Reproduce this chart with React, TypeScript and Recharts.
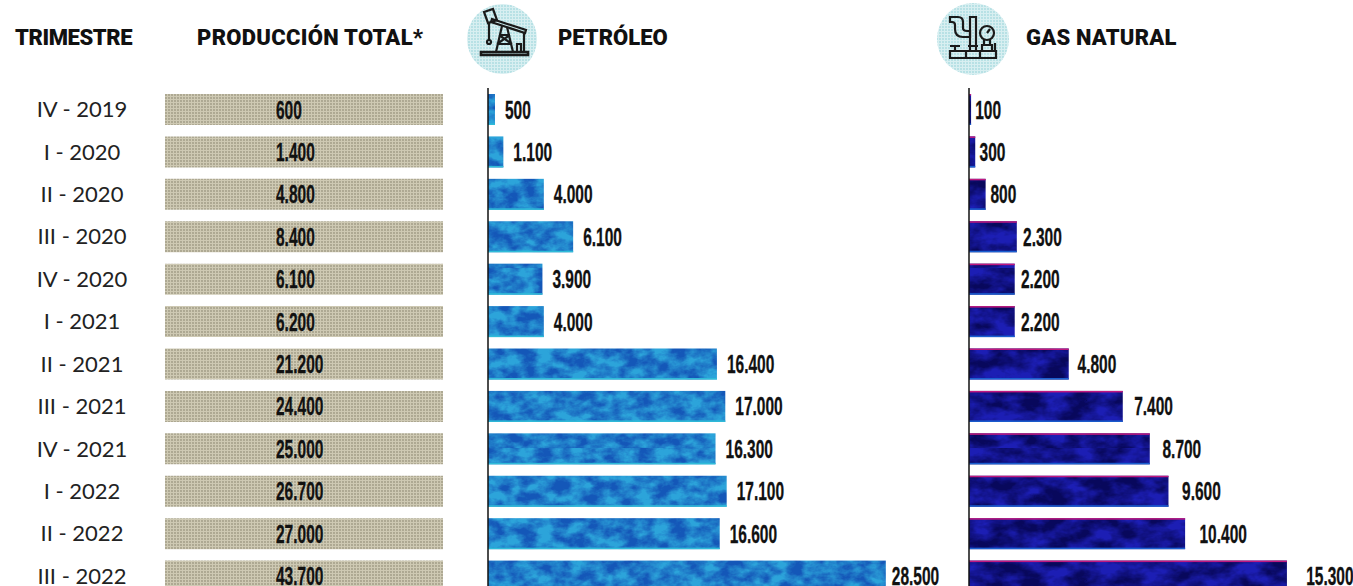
import { BarChart, Bar, XAxis, YAxis, LabelList } from 'recharts';

const quarters = [
  'IV - 2019', 'I - 2020', 'II - 2020', 'III - 2020', 'IV - 2020', 'I - 2021',
  'II - 2021', 'III - 2021', 'IV - 2021', 'I - 2022', 'II - 2022', 'III - 2022',
];
const totalValues = [600, 1400, 4800, 8400, 6100, 6200, 21200, 24400, 25000, 26700, 27000, 43700];
const oilValues = [500, 1100, 4000, 6100, 3900, 4000, 16400, 17000, 16300, 17100, 16600, 28500];
const gasValues = [100, 300, 800, 2300, 2200, 2200, 4800, 7400, 8700, 9600, 10400, 15300];

const rows = quarters.map((quarter, i) => ({
  quarter,
  total: totalValues[i],
  oil: oilValues[i],
  gas: gasValues[i],
}));

const CHART_TOP = 88;
const CHART_HEIGHT = 509;
const BAR_SIZE = 31;
const HEAD_FONT = 'Roboto, "Liberation Sans", sans-serif';

// 1400 -> 1.400, the way the paper prints it
const formatValue = (value: number) => String(value).replace(/\B(?=(\d{3})+$)/g, '.');

// no condensed face is installed, so squeeze the bold one sideways
function NarrowText({ x, y, children }: any) {
  return (
    <text
      transform={`translate(${x} ${y}) scale(0.62 1)`}
      fontFamily='"Liberation Sans", sans-serif'
      fontWeight={700}
      fontSize={25}
      fill="#111"
      stroke="#111"
      strokeWidth={0.3}
    >
      {children}
    </text>
  );
}

function QuarterTick({ y, payload }: any) {
  return (
    <text x={82} y={y} dy={8} textAnchor="middle" fontFamily="Lato, sans-serif" fontSize={22} fill="#222">
      {payload.value}
    </text>
  );
}

function OilBar({ x, y, width, height }: any) {
  return (
    <g>
      <rect x={x} y={y} width={width} height={height} fill="url(#oilTexture)" />
      <rect x={x} y={y + height - 1.5} width={width} height={1.5} fill="#2fbcd8" />
    </g>
  );
}

function GasBar({ x, y, width, height }: any) {
  return (
    <g>
      <rect x={x} y={y} width={width} height={height} fill="url(#gasTexture)" />
      <rect x={x} y={y} width={width} height={1.5} fill="#c0187f" />
      <rect x={x} y={y + height - 1.5} width={width} height={1.5} fill="#1a5fd0" />
    </g>
  );
}

function OilLabel({ x, y, width, height, value }: any) {
  return (
    <NarrowText x={x + width + (value > 20000 ? 6 : 10)} y={y + height / 2 + 9}>
      {formatValue(value)}
    </NarrowText>
  );
}

function GasLabel({ x, y, width, height, value }: any) {
  // the gap in the print widens with the bar
  return (
    <NarrowText x={x + width + 4 + value * 0.001} y={y + height / 2 + 9}>
      {formatValue(value)}
    </NarrowText>
  );
}

function TotalLabel({ x, y, height, value }: any) {
  return (
    <NarrowText x={x + 111} y={y + height / 2 + 9}>
      {formatValue(value)}
    </NarrowText>
  );
}

function Heading({ left, spacing, children }: { left: number; spacing: number; children: string }) {
  return (
    <div
      style={{
        position: 'absolute',
        left,
        top: 24,
        fontFamily: HEAD_FONT,
        fontWeight: 900,
        fontSize: 22,
        letterSpacing: spacing,
        lineHeight: '28px',
        color: '#111',
        whiteSpace: 'nowrap',
      }}
    >
      {children}
    </div>
  );
}

function OilIcon() {
  return (
    <svg width={74} height={74} viewBox="0 0 74 74" style={{ position: 'absolute', left: 465, top: 2 }}>
      <circle cx={37} cy={37} r={35} fill="url(#iconTexture)" />
      <g fill="none" stroke="#1a1a1a" strokeWidth={2.2}>
        <path d="M19 10l9 -3l4 11l-9 3z" />
        <path d="M27 17l34 11l-1 3l-34 -11z" />
        <path d="M24 20v18" />
        <circle cx={24} cy={40} r={2} />
        <path d="M37 24l-6 26M42 25l6 25M34 33h11M32 42h15M34 33l13 9M45 33l-13 9" />
        <path d="M59 30v20" />
        <path d="M16 50h47v3h-47z" strokeWidth={2.6} />
        <path d="M52 50v-8h4v8" />
      </g>
    </svg>
  );
}

function GasIcon() {
  return (
    <svg width={74} height={74} viewBox="0 0 74 74" style={{ position: 'absolute', left: 936, top: 2 }}>
      <circle cx={37} cy={37} r={36} fill="url(#iconTexture)" />
      <g fill="none" stroke="#1a1a1a" strokeWidth={2.2}>
        <path d="M14 15h8c3 0 5 2 5 5v6c0 2 2 3 4 3h3v6h-7c-5 0 -8 -3 -8 -8v-4c0 -2 -1 -3 -3 -3h-2z" />
        <path d="M34 15h6v34h-6zM32 44h10" />
        <circle cx={51} cy={31} r={7} />
        <path d="M51 31l3 -4M48 38v5h6v-5M46 43h10v6h-10z" />
        <path d="M14 44h10M19 44v5" />
        <path d="M14 49h46v7h-46zM30 49v7M44 49v7" />
        <path d="M59 41v8" />
      </g>
    </svg>
  );
}

export default function App() {
  return (
    <div style={{ position: 'fixed', inset: 0, width: 1353, height: 586, overflow: 'hidden', background: '#fff' }}>
      <svg width={0} height={0} style={{ position: 'absolute' }}>
        <defs>
          {/* print mottling for the colour bars, the matrix sets the blotch colour */}
          <filter id="oilMottle" x="0" y="0" width="100%" height="100%" colorInterpolationFilters="sRGB">
            <feTurbulence type="fractalNoise" baseFrequency="0.06 0.09" numOctaves={4} seed={4} />
            <feColorMatrix type="matrix" values="0 0 0 0 0.08  0 0 0 0 0.34  0 0 0 0 0.72  2.4 0 0 0 -0.7" />
          </filter>
          <filter id="gasMottle" x="0" y="0" width="100%" height="100%" colorInterpolationFilters="sRGB">
            <feTurbulence type="fractalNoise" baseFrequency="0.04 0.07" numOctaves={4} seed={9} />
            <feColorMatrix type="matrix" values="0 0 0 0 0.03  0 0 0 0 0.03  0 0 0 0 0.36  2.4 0 0 0 -0.7" />
          </filter>
          <pattern id="totalTexture" width={3} height={3} patternUnits="userSpaceOnUse">
            <rect width={3} height={3} fill="#cec9b3" />
            <circle cx={1} cy={1} r={0.9} fill="#9f9983" />
          </pattern>
          <pattern id="iconTexture" width={3} height={3} patternUnits="userSpaceOnUse">
            <rect width={3} height={3} fill="#d8eff1" />
            <circle cx={1} cy={1} r={0.9} fill="#a9dbe0" />
          </pattern>
          <pattern id="oilTexture" width={420} height={180} patternUnits="userSpaceOnUse">
            <rect width={420} height={180} fill="#2ca4da" />
            <rect width={420} height={180} filter="url(#oilMottle)" />
          </pattern>
          <pattern id="gasTexture" width={340} height={180} patternUnits="userSpaceOnUse">
            <rect width={340} height={180} fill="#1c1eb4" />
            <rect width={340} height={180} filter="url(#gasMottle)" />
          </pattern>
        </defs>
      </svg>

      <Heading left={15} spacing={-0.4}>TRIMESTRE</Heading>
      <Heading left={197} spacing={0.3}>PRODUCCIÓN TOTAL*</Heading>
      <OilIcon />
      <Heading left={558} spacing={0}>PETRÓLEO</Heading>
      <GasIcon />
      <Heading left={1026} spacing={0.2}>GAS NATURAL</Heading>

      {/* total column: every row is the same full-width strip, only the number changes */}
      <div style={{ position: 'absolute', left: 0, top: CHART_TOP }}>
        <BarChart
          width={443}
          height={CHART_HEIGHT}
          data={rows}
          layout="vertical"
          margin={{ top: 0, right: 0, bottom: 0, left: 0 }}
          barSize={BAR_SIZE}
        >
          <XAxis type="number" hide domain={[0, 1]} />
          <YAxis
            type="category"
            dataKey="quarter"
            width={165}
            axisLine={false}
            tickLine={false}
            tick={<QuarterTick />}
            interval={0}
          />
          <Bar dataKey={() => 1} fill="url(#totalTexture)" isAnimationActive={false}>
            <LabelList dataKey="total" content={<TotalLabel />} />
          </Bar>
        </BarChart>
      </div>

      <div style={{ position: 'absolute', left: 487, top: CHART_TOP }}>
        <BarChart
          width={470}
          height={CHART_HEIGHT}
          data={rows}
          layout="vertical"
          margin={{ top: 0, right: 0, bottom: 0, left: 0 }}
          barSize={BAR_SIZE}
        >
          <XAxis type="number" hide domain={[0, 33600]} />
          <YAxis type="category" dataKey="quarter" width={1} tick={false} tickLine={false} axisLine={{ stroke: '#111', strokeWidth: 1.5 }} />
          <Bar dataKey="oil" shape={<OilBar />} isAnimationActive={false}>
            <LabelList dataKey="oil" content={<OilLabel />} />
          </Bar>
        </BarChart>
      </div>

      <div style={{ position: 'absolute', left: 968, top: CHART_TOP }}>
        <BarChart
          width={385}
          height={CHART_HEIGHT}
          data={rows}
          layout="vertical"
          margin={{ top: 0, right: 0, bottom: 0, left: 0 }}
          barSize={BAR_SIZE}
        >
          <XAxis type="number" hide domain={[0, 18480]} />
          <YAxis type="category" dataKey="quarter" width={1} tick={false} tickLine={false} axisLine={{ stroke: '#111', strokeWidth: 1.5 }} />
          <Bar dataKey="gas" shape={<GasBar />} isAnimationActive={false}>
            <LabelList dataKey="gas" content={<GasLabel />} />
          </Bar>
        </BarChart>
      </div>
    </div>
  );
}
